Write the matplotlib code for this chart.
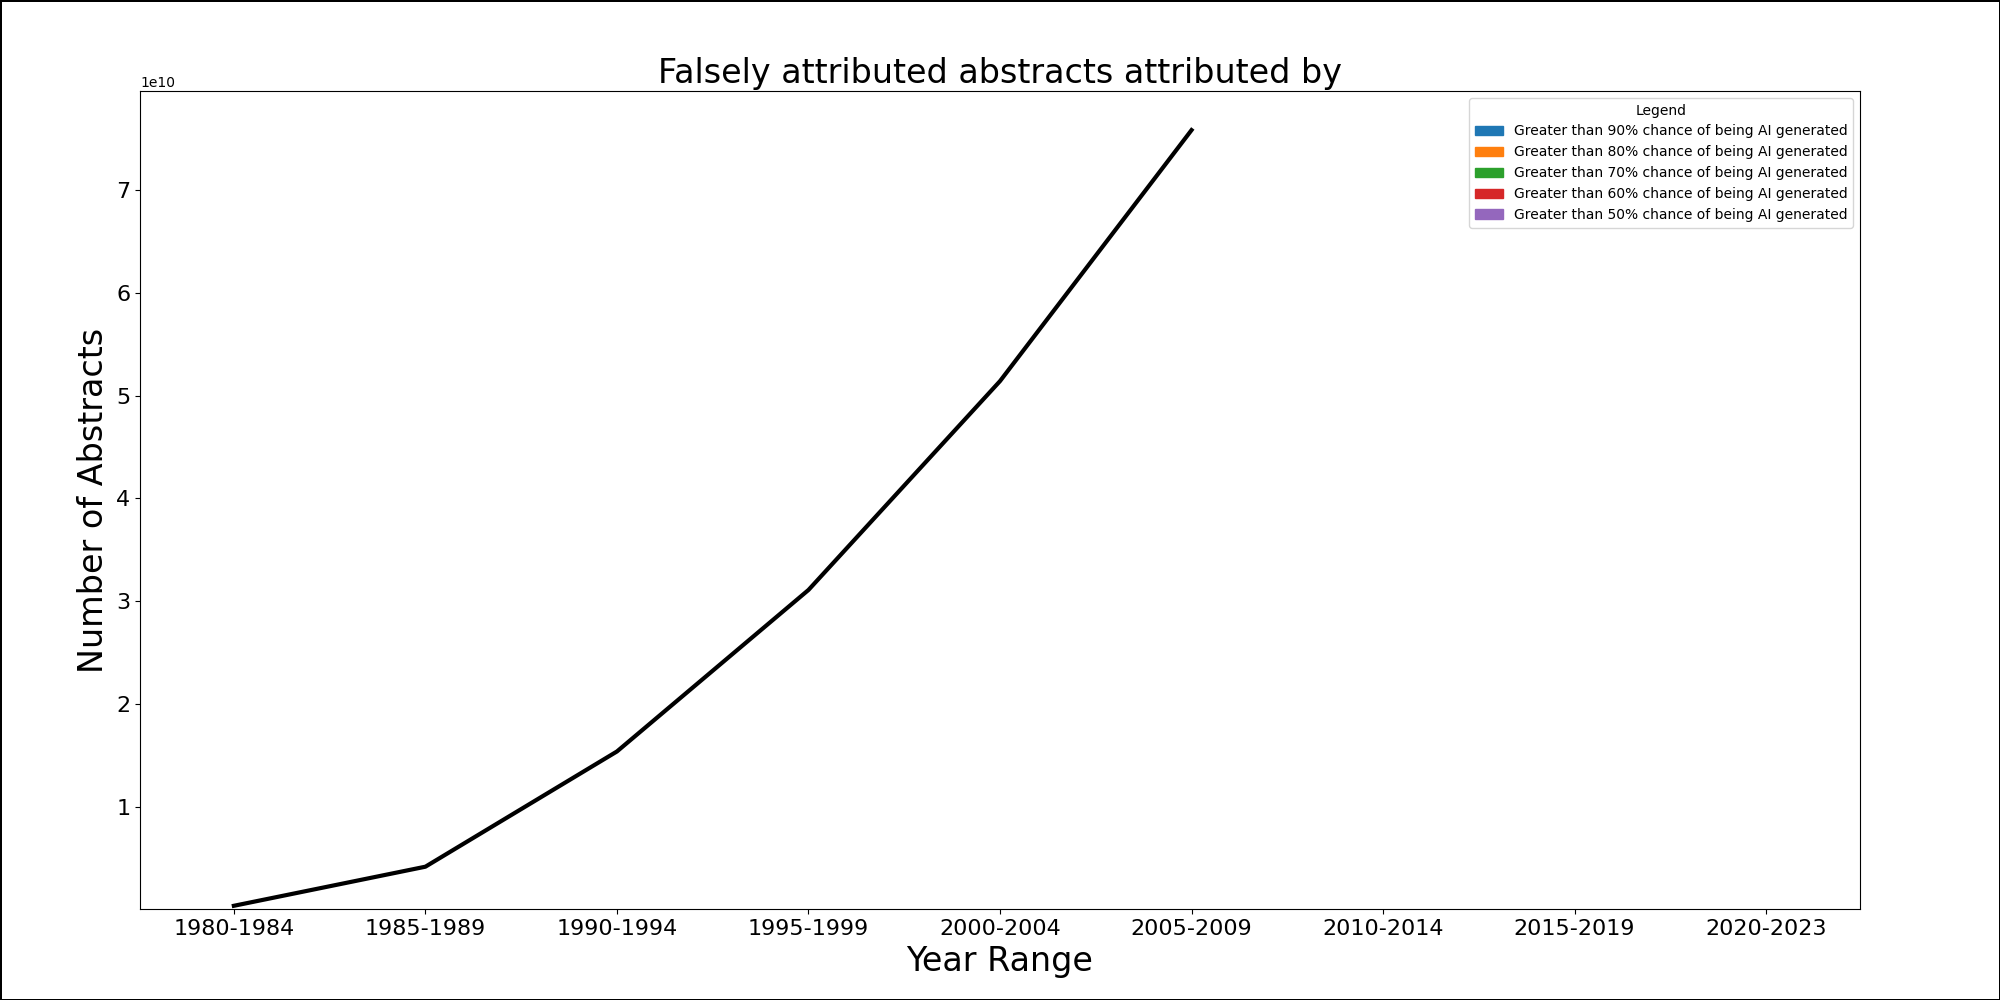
import matplotlib.pyplot as plt
from matplotlib.patches import Patch

year_ranges = ['1980-1984', '1985-1989', '1990-1994', '1995-1999', '2000-2004',
               '2005-2009', '2010-2014', '2015-2019', '2020-2023']
totals = [0.04e10, 0.42e10, 1.54e10, 3.11e10, 5.14e10, 7.58e10]
legend_labels = [f'Greater than {p}% chance of being AI generated' for p in (90, 80, 70, 60, 50)]
legend_colors = ['tab:blue', 'tab:orange', 'tab:green', 'tab:red', 'tab:purple']

fig = plt.figure(figsize=(20, 10), dpi=100, linewidth=2, edgecolor='black')
ax = fig.add_axes([0.070, 0.0906, 0.860, 0.8184])

x = list(range(len(year_ranges)))
ax.plot(x[:len(totals)], totals, color='black', linewidth=3)
ax.set_xticks(x)
ax.set_xticklabels(year_ranges, fontsize=16)
ax.set_xlim(-0.49, 8.49)
ax.set_ylim(0.005e10, 7.96e10)
ax.set_yticks([i * 1e10 for i in range(1, 8)])
ax.tick_params(axis='y', labelsize=16)

ax.set_title('Falsely attributed abstracts attributed by', fontsize=24)
ax.set_xlabel('Year Range', fontsize=24)
ax.set_ylabel('Number of Abstracts', fontsize=24)

handles = [Patch(color=c, label=l) for c, l in zip(legend_colors, legend_labels)]
ax.legend(handles=handles, title='Legend', loc='upper right', fontsize=10, title_fontsize=10)

fig.savefig('out.png', dpi=100, edgecolor=fig.get_edgecolor())
